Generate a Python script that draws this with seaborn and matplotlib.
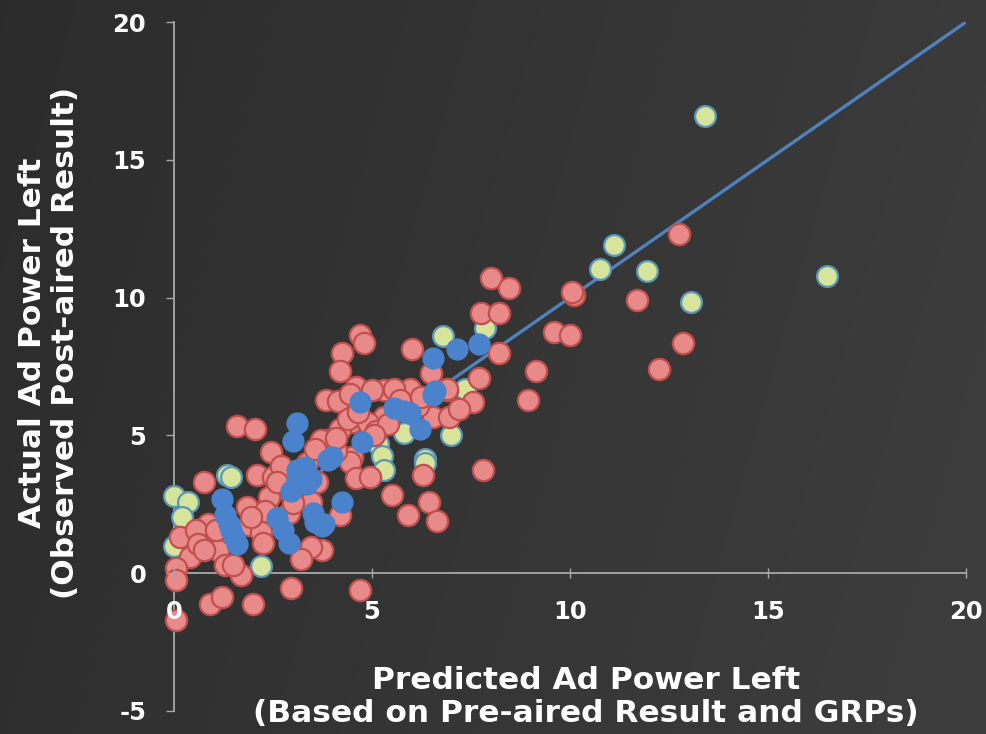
import numpy as np
import pandas as pd
import matplotlib
matplotlib.use("Agg")
import matplotlib.pyplot as plt
import seaborn as sns

# --- ads with the strongest pre-air read (salmon) ---
red_x = [12.75, 10.1, 10.05, 11.7, 9.6, 10.0, 12.85, 12.25, 8.0, 8.45, 7.75, 8.2, 8.2, 9.15,
         7.7, 8.95, 7.55, 7.8, 6.0, 4.7, 4.8, 4.25, 4.2, 6.5, 5.95, 4.6, 5.3, 5.55, 3.85, 4.15,
         4.45, 6.55, 6.95, 5.3, 6.15, 4.5, 4.9, 4.2, 4.4, 3.9, 3.7, 4.5, 4.45, 4.1, 5.9, 6.45,
         6.65, 6.3, 5.5, 4.6, 4.95, 4.2, 3.75, 4.7, 3.45, 3.2, 2.95, 1.6, 2.05, 2.45, 0.75, 2.1,
         2.5, 1.85, 2.4, 0.85, 1.9, 2.2, 2.25, 0.15, 0.9, 0.4, 1.1, 1.3, 1.7, 0.05, 0.05, 0.9,
         1.2, 2.0, 0.05, 6.9, 7.2, 5.0, 3.35, 3.6, 2.7, 4.1, 5.1, 0.55, 3.45, 2.9, 1.5, 4.65,
         6.9, 2.6, 3.0, 3.55, 0.6, 0.75, 1.05, 5.7, 6.25, 5.4, 5.05, 2.3, 1.95]
red_y = [12.3, 10.1, 10.2, 9.9, 8.75, 8.65, 8.35, 7.4, 10.7, 10.35, 9.45, 9.45, 8.0, 7.35,
         7.1, 6.3, 6.2, 3.75, 8.15, 8.65, 8.35, 8.0, 7.35, 7.25, 6.7, 6.75, 6.65, 6.7, 6.3, 6.25,
         6.5, 5.65, 5.65, 5.65, 6.05, 5.5, 5.45, 5.25, 5.6, 4.85, 4.85, 4.2, 4.05, 4.45, 2.1, 2.6,
         1.9, 3.55, 2.85, 3.45, 3.5, 2.1, 0.85, -0.6, 0.95, 0.5, -0.55, 5.35, 5.25, 4.4, 3.3, 3.55,
         3.5, 2.4, 2.75, 1.8, 1.75, 1.5, 1.1, 1.3, 1.35, 0.6, 0.85, 0.3, -0.05, 0.2, -0.25, -1.1,
         -0.85, -1.1, -1.7, 6.65, 5.95, 6.65, 4.0, 3.3, 3.9, 4.9, 5.15, 1.55, 2.6, 2.2, 0.3, 5.85,
         6.7, 3.3, 2.55, 4.5, 1.05, 0.85, 1.55, 6.3, 6.4, 5.4, 5.0, 2.25, 2.05]

# --- mid-range pre-air read (pale green) ---
green_x = [13.4, 16.5, 11.1, 10.75, 11.95, 13.05, 7.85, 6.8, 7.35, 7.0, 6.35, 6.35, 5.8, 5.15,
           5.25, 5.3, 1.35, 0.0, 0.35, 0.2, 0.0, 2.2, 2.35, 1.45]
green_y = [16.6, 10.8, 11.9, 11.05, 10.95, 9.85, 8.9, 8.6, 6.7, 5.0, 4.15, 4.0, 5.1, 4.7,
           4.25, 3.75, 3.55, 2.8, 2.6, 2.05, 1.0, 0.25, 2.3, 3.5]

# --- weakest pre-air read (blue) ---
blue_x = [7.15, 7.7, 6.55, 6.55, 5.55, 5.8, 5.95, 6.2, 4.7, 4.75, 3.9, 4.0, 3.1, 3.0, 3.1, 3.3,
          3.45, 3.1, 2.95, 3.35, 3.5, 3.55, 3.75, 3.8, 4.25, 1.2, 1.3, 1.45, 1.6, 1.38, 1.52,
          2.75, 2.9, 2.6, 6.6]
blue_y = [8.15, 8.3, 7.8, 6.45, 6.0, 5.9, 5.8, 5.25, 6.2, 4.75, 4.1, 4.2, 5.45, 4.8, 3.75, 3.85,
          3.4, 3.4, 3.0, 3.25, 2.2, 1.85, 1.7, 1.8, 2.6, 2.7, 2.1, 1.55, 1.05, 1.8, 1.3,
          1.55, 1.1, 2.0, 6.6]

# reference line: predicted == actual
line_x = [0, 20]
line_y = [0, 20]

x_ticks = [0, 5, 10, 15, 20]
y_ticks = [-5, 0, 5, 10, 15, 20]

sns.set_theme(style="dark")
plt.rcParams["font.family"] = ["DejaVu Sans"]
plt.rcParams["font.weight"] = "bold"

W, H = 987, 734
fig = plt.figure(figsize=(W / 100, H / 100), dpi=100)

# dark slide background with a soft left-to-right lightening
bg = fig.add_axes([0, 0, 1, 1], zorder=-10)
gx = np.linspace(0, 1, 400)[None, :]
gy = np.linspace(0, 1, 300)[:, None]
shade = 0.172 + 0.058 * gx + 0.012 * gy
bg.imshow(np.dstack([shade, shade, shade]), aspect="auto", extent=[0, 1, 0, 1], origin="upper")
bg.set_axis_off()

ax = fig.add_axes([174 / W, 1 - 711 / H, 792 / W, 689 / H])
ax.set_facecolor("none")

sns.lineplot(x=line_x, y=line_y, color="#4f81bd", linewidth=2.4, ax=ax, zorder=2)
sns.scatterplot(x=green_x, y=green_y, s=225, color="#d6e49c", edgecolor="#5b97b5",
                linewidth=1.6, ax=ax, zorder=3, clip_on=False)
sns.scatterplot(x=red_x, y=red_y, s=235, color="#e8898a", edgecolor="#c0504d",
                linewidth=1.6, ax=ax, zorder=4, clip_on=False)
sns.scatterplot(x=blue_x, y=blue_y, s=225, color="#4a83cc", edgecolor="#4a83cc",
                linewidth=1.0, ax=ax, zorder=5, clip_on=False)

ax.set_xlim(0, 20)
ax.set_ylim(-5, 20)
ax.set_xticks(x_ticks)
ax.set_yticks(y_ticks)
ax.set_xticklabels([str(v) for v in x_ticks])
ax.set_yticklabels([str(v) for v in y_ticks])
ax.grid(False)

for side in ("top", "right"):
    ax.spines[side].set_visible(False)
ax.spines["bottom"].set_position(("data", 0))
for side in ("left", "bottom"):
    ax.spines[side].set_visible(True)
    ax.spines[side].set_color("#a8a8a8")
    ax.spines[side].set_linewidth(1.3)
    ax.spines[side].set_zorder(1)

ax.tick_params(axis="x", direction="inout", length=7, width=1, color="#a8a8a8",
               labelcolor="white", labelsize=17.5, pad=16, bottom=True)
ax.tick_params(axis="y", direction="out", length=6, width=1, color="#a8a8a8",
               labelcolor="white", labelsize=17.5, pad=14, left=True)
ax.xaxis.set_zorder(6)
ax.yaxis.set_zorder(6)
ax.set_xlabel("")
ax.set_ylabel("")

fig.text(586 / W, 1 - 697 / H, "Predicted Ad Power Left\n(Based on Pre-aired Result and GRPs)",
         ha="center", va="center", multialignment="center", color="white",
         fontsize=22.5, fontweight="bold", linespacing=1.2)
fig.text(49 / W, 1 - 343 / H, "Actual Ad Power Left\n(Observed Post-aired Result)",
         ha="center", va="center", multialignment="center", rotation=90, color="white",
         fontsize=22.5, fontweight="bold", linespacing=1.2)

fig.savefig("out.png", dpi=100, facecolor=fig.get_facecolor())
